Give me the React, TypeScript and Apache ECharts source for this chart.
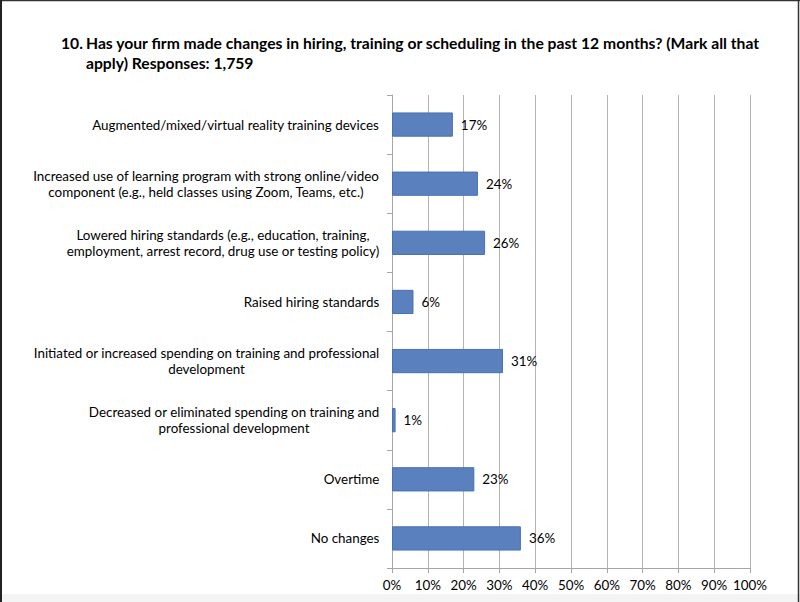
import React, { useEffect, useRef } from "react";
import * as echarts from "echarts";

const titleNumber = "10.";
const titleText =
  "Has your firm made changes in hiring, training or scheduling in the past 12 months? (Mark all that\napply) Responses: 1,759";

const categories = [
  "Augmented/mixed/virtual reality training devices",
  "Increased use of learning program with strong online/video\ncomponent (e.g., held classes using Zoom, Teams, etc.)",
  "Lowered hiring standards (e.g., education, training,\nemployment, arrest record, drug use or testing policy)",
  "Raised hiring standards",
  "Initiated or increased spending on training and professional\ndevelopment",
  "Decreased or eliminated spending on training and\nprofessional development",
  "Overtime",
  "No changes",
];

const values = [17, 24, 26, 6, 31, 1, 23, 36];

const FONT = "Lato";
const LABEL_SIZE = 13.4;

function measure(text: string, size: number, weight = "normal"): number {
  const c = document.createElement("canvas");
  const ctx = c.getContext("2d");
  if (!ctx) return text.length * size * 0.5;
  ctx.font = `${weight} ${size}px ${FONT}`;
  return ctx.measureText(text).width;
}

export default function App() {
  const ref = useRef<HTMLDivElement>(null);

  useEffect(() => {
    if (!ref.current) return;
    const chart = echarts.init(ref.current, undefined, { renderer: "svg" });

    const rich: Record<string, any> = {};
    categories.forEach((cat, i) => {
      const w = Math.max(...cat.split("\n").map((l) => measure(l, LABEL_SIZE)));
      rich["c" + i] = {
        width: Math.ceil(w) + 1,
        align: "center",
        fontSize: LABEL_SIZE,
        fontFamily: FONT,
        lineHeight: 16,
        color: "#000",
      };
    });

    const titleStyle = { fontFamily: FONT, fontSize: 15.7, fontWeight: "bold", color: "#000", lineHeight: 20 };

    chart.setOption({
      animation: false,
      backgroundColor: "#fff",
      title: [
        { text: titleNumber, left: 61, top: 33, padding: 0, textStyle: titleStyle },
        { text: titleText, left: 86, top: 33, padding: 0, textStyle: titleStyle },
      ],
      graphic: [
        { type: "rect", shape: { x: 0, y: 594, width: 800, height: 8 }, style: { fill: "#f4f4f4" }, silent: true },
        { type: "line", shape: { x1: 0, y1: 0.5, x2: 800, y2: 0.5 }, style: { stroke: "#333", lineWidth: 1.5 } },
        { type: "line", shape: { x1: 1, y1: 0, x2: 1, y2: 602 }, style: { stroke: "#222", lineWidth: 2 } },
        { type: "line", shape: { x1: 798.5, y1: 0, x2: 798.5, y2: 602 }, style: { stroke: "#333", lineWidth: 1.5 } },
      ],
      grid: { left: 392, right: 50, top: 95, bottom: 34, containLabel: false },
      xAxis: {
        type: "value",
        min: 0,
        max: 100,
        interval: 10,
        axisLine: { show: true, lineStyle: { color: "#a6a6a6" } },
        axisTick: { show: true, length: 5, lineStyle: { color: "#a6a6a6" } },
        splitLine: { show: true, lineStyle: { color: "#b3b3b3", width: 1 } },
        axisLabel: {
          formatter: "{value}%",
          fontFamily: FONT,
          fontSize: LABEL_SIZE,
          color: "#000",
          margin: 10,
        },
      },
      yAxis: {
        type: "category",
        data: categories,
        inverse: true,
        axisLine: { show: true, lineStyle: { color: "#a6a6a6" } },
        axisTick: { show: true, length: 5, lineStyle: { color: "#a6a6a6" } },
        splitLine: { show: false },
        axisLabel: {
          margin: 12,
          align: "right",
          formatter: (val: string, idx: number) =>
            val
              .split("\n")
              .map((l) => `{c${idx}|${l}}`)
              .join("\n"),
          rich,
        },
      },
      series: [
        {
          type: "bar",
          data: values,
          barCategoryGap: "59%",
          itemStyle: { color: "#5b80be", borderColor: "#4671b3", borderWidth: 1 },
          label: {
            show: true,
            position: "right",
            distance: 8,
            formatter: "{c}%",
            fontFamily: FONT,
            fontSize: LABEL_SIZE,
            color: "#000",
          },
        },
      ],
    });

    return () => chart.dispose();
  }, []);

  return (
    <div
      ref={ref}
      style={{ position: "absolute", left: 0, top: 0, width: 800, height: 602 }}
    />
  );
}
